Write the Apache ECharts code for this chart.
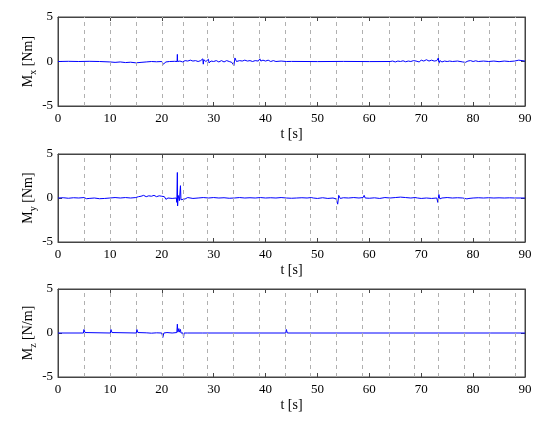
<!DOCTYPE html>
<html>
<head>
<meta charset="utf-8">
<script src="https://cdn.jsdelivr.net/npm/echarts@6/dist/echarts.min.js"></script>
<style>
  html, body { margin: 0; padding: 0; background: #fff; }
  #chart { width: 550px; height: 422px; }
</style>
</head>
<body>
<div id="chart"></div>
<script>
// vertical dashed marker lines [s]
var eventTimes = [5, 10, 15, 20, 24.1, 28.8, 33.8, 38.8, 43.7, 48.7, 53.7, 58.7, 63.8, 68.7, 73.3, 78.2, 83.2, 88.2];
var xTicks = [0, 10, 20, 30, 40, 50, 60, 70, 80, 90];
var yTicks = [-5, 0, 5];

// [t, value] pairs
var mx = [[0,0],[2,0.02],[4,0],[6,0.02],[8,0],[10,-0.05],[11,-0.1],[12,-0.05],[13,-0.12],[14,-0.08],[15,-0.15],[15.3,-0.05],[16,-0.1],[17,-0.05],[18,0],[19,-0.03],[20,0],[20.3,-0.3],[20.8,-0.05],[21.5,0],[22.5,0.02],[22.95,0],[23,0.8],[23.05,0],[23.5,0.05],[24,-0.05],[24.5,0.1],[25,0.05],[25.5,0.15],[26,0.05],[26.5,0.1],[27,0],[27.5,0.1],[27.9,0.3],[28,-0.3],[28.1,0.2],[28.5,0],[29,0.25],[29.1,-0.15],[29.5,0.05],[30,0],[30.5,0.1],[31,-0.05],[31.5,0.1],[32,-0.05],[32.5,0.1],[33,0],[33.5,-0.1],[33.9,-0.45],[34.1,0.4],[34.4,0],[35,0.1],[35.5,0.05],[36,0.15],[36.5,0.05],[37,0.1],[37.5,0],[38,0.1],[38.6,0.05],[38.9,0.3],[39.1,0.05],[39.5,0.15],[40,0.05],[40.5,0.15],[41,0],[41.5,0.1],[42,0],[43,0.05],[44,0],[45,0.01],[50,-0.01],[55,0.01],[60,-0.01],[64,0],[64.5,0.05],[65,-0.05],[65.5,0.05],[66,0],[66.5,0.08],[67,-0.03],[67.5,0.05],[68,0],[68.5,0.1],[69,0.05],[69.3,0.2],[69.6,-0.05],[70,0.15],[70.5,0.05],[71,0.2],[71.5,0.05],[72,0.15],[72.5,0.05],[73,0.1],[73.3,0.4],[73.4,-0.2],[73.6,0.1],[74,-0.05],[74.5,0.05],[75,0],[75.5,0.05],[76,0],[77,0.05],[78,-0.05],[78.5,-0.1],[79,0.05],[79.5,0.1],[80,0],[80.5,0.08],[81,0],[82,0.05],[83,0],[84,0.05],[85,-0.02],[86,0.05],[87,0],[88,0.05],[88.8,0.15],[89,0.05],[90,0.05]];

var my = [[0,0],[1,0.03],[2,-0.03],[3,0.03],[4,0],[5,0.05],[5.5,-0.08],[6,-0.05],[7,0],[8,-0.08],[9,-0.05],[10,0],[11,0.05],[12,0],[13,0.05],[14,0],[15,0.05],[15.5,0.15],[16,0.2],[16.5,0.3],[17,0.15],[17.5,0.25],[18,0.2],[18.5,0.3],[19,0.15],[19.5,0.25],[20,0.2],[20.5,0.15],[20.8,-0.15],[21.2,0],[22,-0.05],[22.8,0],[22.9,-0.5],[23,2.9],[23.05,-0.9],[23.15,0.3],[23.4,-0.3],[23.6,1.4],[23.7,-0.2],[24,0],[24.5,-0.1],[25,0.05],[26,-0.05],[27,0],[28,0.05],[29,0],[30,0.05],[31,0],[32,0.03],[33,-0.03],[34,0],[35,0.05],[36,0],[37,0.03],[38,0],[39,0.05],[40,0],[41,0.03],[42,0],[43,0.05],[44,0],[45,-0.03],[46,0],[47,0.03],[48,0],[48.8,0.05],[49,0.2],[49.2,0],[50,-0.05],[51,0.03],[52,-0.05],[53,0],[53.6,-0.1],[53.9,-0.7],[54.1,0.3],[54.4,-0.05],[55,0.03],[56,0],[57,0.05],[58,0],[58.8,0.05],[59,0.3],[59.2,0],[60,-0.03],[61,0.02],[62,-0.05],[63,0.05],[64,0],[65,0.05],[66,0.1],[67,0.05],[68,0],[68.8,0.05],[69,0.2],[69.3,0],[70,-0.05],[71,0],[72,-0.05],[73,0],[73.2,-0.5],[73.4,0.4],[73.6,-0.1],[74,0],[75,0.05],[76,0],[77,0.03],[78,0],[78.8,-0.1],[79,0.1],[79.2,-0.05],[80,0],[81,0.03],[82,0],[83,0.03],[84,0],[85,0.02],[86,0],[87,0.02],[88,0],[90,0]];

var mz = [[0,0],[4.9,0],[5,0.4],[5.2,0.05],[5.4,0],[10.1,0],[10.2,0.4],[10.4,0.05],[10.6,0],[15.1,0],[15.2,0.4],[15.4,0.05],[15.6,0],[17,0.02],[18,-0.02],[19,0.02],[20,0],[20.2,-0.5],[20.4,0],[21,0.05],[22,0],[22.9,0.05],[23,1.0],[23.1,0.1],[23.3,0.5],[23.4,0.1],[23.6,0.4],[23.7,0],[24.1,0],[24.2,-0.5],[24.3,0],[25,0],[27.9,0],[28,0.2],[28.2,0],[43.9,0],[44,0.4],[44.2,0],[63.9,0],[64,-0.1],[64.1,0],[83.4,0],[83.5,-0.2],[83.6,0],[90,0]];

var panels = [
  { data: mx, name: '{m|M}{s|x}{m| [Nm]}', top: 17, height: 89 },
  { data: my, name: '{m|M}{s|y}{m| [Nm]}', top: 154, height: 88 },
  { data: mz, name: '{m|M}{s|z}{m| [N/m]}', top: 289, height: 88 }
];

var font = 'Liberation Serif';
var axisColor = '#444';
var grids = [], xAxes = [], yAxes = [], series = [];

panels.forEach(function (p, i) {
  grids.push({ left: 58, right: 25, top: p.top, height: p.height,
    show: true, borderColor: axisColor, borderWidth: 1, backgroundColor: '#fff' });
  xAxes.push({
    gridIndex: i, type: 'value', min: 0, max: 90, interval: 10,
    name: 't [s]', nameLocation: 'middle', nameGap: 21,
    nameTextStyle: { fontFamily: font, fontSize: 14, color: '#000' },
    axisLine: { onZero: false, lineStyle: { color: axisColor } },
    axisTick: { inside: true, length: 4, lineStyle: { color: axisColor } },
    axisLabel: { fontFamily: font, fontSize: 13, color: '#000', margin: 6 },
    splitLine: { show: false }
  });
  xAxes.push({
    gridIndex: i, type: 'value', min: 0, max: 90, interval: 10, position: 'top',
    axisLine: { onZero: false, lineStyle: { color: axisColor } },
    axisTick: { inside: true, length: 4, lineStyle: { color: axisColor } },
    axisLabel: { show: false }, splitLine: { show: false }
  });
  yAxes.push({
    gridIndex: i, type: 'value', min: -5, max: 5, interval: 5,
    name: p.name, nameLocation: 'middle', nameGap: 20, nameMoveOverlap: false,
    nameTextStyle: { fontFamily: font, color: '#000',
      rich: {
        m: { fontFamily: font, fontSize: 14, color: '#000' },
        s: { fontFamily: font, fontSize: 10, color: '#000', padding: [9, 0, 0, 0] }
      } },
    axisLine: { show: true, onZero: false, lineStyle: { color: axisColor } },
    axisTick: { show: true, inside: true, length: 4, lineStyle: { color: axisColor } },
    axisLabel: { fontFamily: font, fontSize: 13, color: '#000', margin: 5 },
    splitLine: { show: false }
  });
  yAxes.push({
    gridIndex: i, type: 'value', min: -5, max: 5, interval: 5, position: 'right',
    axisLine: { show: true, onZero: false, lineStyle: { color: axisColor } },
    axisTick: { show: true, inside: true, length: 4, lineStyle: { color: axisColor } },
    axisLabel: { show: false }, splitLine: { show: false }
  });
  series.push({
    type: 'line', xAxisIndex: i * 2, yAxisIndex: i * 2,
    data: p.data, showSymbol: false, symbol: 'none',
    lineStyle: { color: '#0000ff', width: 1 },
    markLine: {
      silent: true, symbol: 'none', label: { show: false },
      lineStyle: { color: '#b0b0b0', type: [4, 4], width: 1 },
      data: eventTimes.map(function (t) { return { xAxis: t }; })
    },
    animation: false
  });
});

var myChart = echarts.init(document.getElementById('chart'));
myChart.setOption({
  animation: false,
  grid: grids,
  xAxis: xAxes,
  yAxis: yAxes,
  series: series
});
</script>
</body>
</html>
